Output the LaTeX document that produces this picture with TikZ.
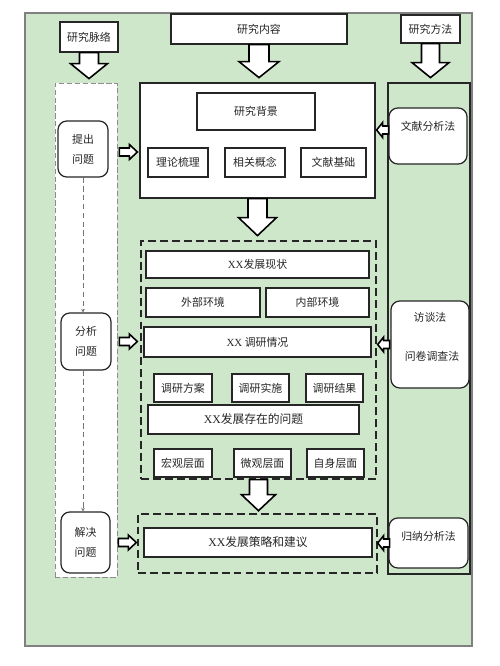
\documentclass[tikz,border=0pt]{standalone}
\usepackage{fontspec}
\setmainfont{Liberation Serif}
\newfontfamily\cjk{Noto Sans CJK SC}
\usepackage{tikz}
\usetikzlibrary{calc,fit,positioning,arrows.meta}
\definecolor{bggreen}{RGB}{206,230,201}

\begin{document}
\begin{tikzpicture}[x=0.02cm,y=-0.02cm,
    box/.style={draw=black!85,line width=0.7pt,fill=white,inner sep=0pt},
    rbox/.style={box,rounded corners=5pt},
    dbox/.style={draw=black!85,line width=0.8pt,dash pattern=on 4.5pt off 2.3pt,inner sep=0pt},
    txt/.style={inner sep=0pt,font=\cjk\fontsize{6.2}{7}\selectfont,text=black!85},
    every label/.style={txt},
    twoline/.style={align=center,font=\cjk\fontsize{6.2}{11.3}\selectfont},
    bigtxt/.style={font=\cjk\fontsize{6.7}{7}\selectfont},
    flow/.style={draw=black!55,line width=0.4pt,dash pattern=on 3pt off 2pt,
      -{Stealth[length=2pt,width=2.2pt]}},
    blk/.style={draw=black,line width=0.9pt,fill=white,line join=miter},
    pics/dnarrow/.style n args={4}{code={
      \draw[blk] (-#3,0) -- (#3,0) -- (#3,#1-#2) -- (#4,#1-#2) -- (0,#1)
        -- (-#4,#1-#2) -- (-#3,#1-#2) -- cycle;}},
    pics/harrow/.style n args={4}{code={
      \draw[blk] (0,0) -- (-#2,-#4) -- (-#2,-#3) -- (-#1,-#3) -- (-#1,#3)
        -- (-#2,#3) -- (-#2,#4) -- cycle;}}
  ]
  \useasboundingbox (0,0) rectangle (500,666);

  % 绿色底
  \draw[draw=black!50,line width=0.6pt,fill=bggreen] (25,13) rectangle (472,646);

  % 顶部三个标题
  \node[box,fit={(60,22) (118,52)},label=center:研究脉络] (yjml) {};
  \node[box,fit={(171,14) (347,44)},label=center:研究内容] (yjnr) {};
  \node[box,fit={(401,15) (460,43)},label=center:研究方法] (yjff) {};

  % 三列
  \node[box,draw=black!45,line width=0.5pt,dash pattern=on 3pt off 1.5pt,
    fit={(55,83) (117,577)}] (mlcol) {};
  \node[box,fill=bggreen,fit={(388,83) (470,574)}] (ffcol) {};
  \node[box,fit={(140,83) (375,198)}] (bjbox) {};
  \node[dbox,fit={(141,241) (376,479)}] (fxbox) {};
  \node[dbox,fit={(138,514) (377,573)}] (jjbox) {};

  % 研究背景
  \node[box,fit={(197,93) (315,130)},label=center:研究背景] (yjbj) {};
  \node[box,fit={(148,148) (208,177)},label=center:理论梳理] (llsl) {};
  \node[box,fit={(225,148) (285,177)},label=center:相关概念] (xggn) {};
  \node[box,fit={(301,148) (366,177)},label=center:文献基础] (wxjc) {};

  % 现状与问题
  \node[box,fit={(146,251) (369,278)},label=center:{\rmfamily XX}发展现状] (fzxz) {};
  \node[box,fit={(146,288) (260,317)},label=center:外部环境] (wbhj) {};
  \node[box,fit={(266,288) (369,317)},label=center:内部环境] (nbhj) {};
  \node[box,fit={(144,327) (371,357)},label=center:{\rmfamily XX} 调研情况] (dyqk) {};
  \node[box,fit={(154,374) (212,402)},label=center:调研方案] (dyfa) {};
  \node[box,fit={(232,374) (289,402)},label=center:调研实施] (dyss) {};
  \node[box,fit={(306,374) (363,402)},label=center:调研结果] (dyjg) {};
  \node[box,fit={(148,405) (359,434)},
    label={[bigtxt]center:{\rmfamily XX}发展存在的问题}] (czwt) {};
  \node[box,fit={(154,449) (212,477)},label=center:宏观层面] (hgcm) {};
  \node[box,fit={(234,449) (291,477)},label=center:微观层面] (wgcm) {};
  \node[box,fit={(307,449) (364,477)},label=center:自身层面] (zscm) {};

  % 策略
  \node[box,fit={(144,528) (372,557)},
    label={[bigtxt]center:{\rmfamily XX}发展策略和建议}] (cljy) {};

  % 左列
  \node[rbox,fit={(58,121) (108,177)},label={[twoline]center:提出\\问题}] (tcwt) {};
  \node[rbox,fit={(61,313) (111,370)},label={[twoline]center:分析\\问题}] (fxwt) {};
  \node[rbox,fit={(61,512) (110,573)},label={[twoline]center:解决\\问题}] (jjwt) {};
  \draw[flow] (tcwt.south) -- (tcwt.south |- fxwt.north);
  \draw[flow] (tcwt.south |- fxwt.south) -- (tcwt.south |- jjwt.north);

  % 右列
  \node[rbox,fit={(389,108) (467,164)}] (wxfx) {};
  \node[txt] (wxfxt) at ($(wxfx.north)+(0,19)$) {文献分析法};
  \node[rbox,fit={(391,301) (469,388)}] (ftdc) {};
  \node[txt] (ftdct1) at ($(ftdc.north)+(0,17)$) {访谈法};
  \node[txt] (ftdct2) at ($(ftdc.north)+(2,56)$) {问卷调查法};
  \node[rbox,fit={(389,518) (468,568)}] (gnfx) {};
  \node[txt] (gnfxt) at ($(gnfx.north)+(0,19)$) {归纳分析法};

  % 空心箭头
  \pic at (yjml.south) {dnarrow={26}{15}{9.5}{18.5}};
  \pic at (yjnr.south) {dnarrow={33}{16}{10}{20}};
  \pic at (yjff.south) {dnarrow={34}{15}{9}{18.5}};
  \pic at (bjbox.south) {dnarrow={37}{18}{9.5}{19}};
  \pic at (fxbox.south) {dnarrow={31}{16}{9}{17}};

  \pic at ($(bjbox.west |- tcwt.east)+(-2,3)$) {harrow={18}{8}{4}{7.5}};
  \pic at ($(fxbox.west |- fxwt.east)+(-3,0)$) {harrow={18}{8}{4}{7.5}};
  \pic at ($(jjbox.west |- jjwt.east)+(-1,0)$) {harrow={18}{8}{4}{7.5}};

  \pic[rotate=180] at ($(bjbox.east |- wxfx.west)+(1,-6)$) {harrow={12}{6}{4}{7.5}};
  \pic[rotate=180] at ($(fxbox.east |- ftdc.west)+(1,0)$) {harrow={12}{6}{4}{7.5}};
  \pic[rotate=180] at ($(jjbox.east |- gnfx.west)+(0,0)$) {harrow={12}{6}{4}{7.5}};

\end{tikzpicture}
\end{document}
